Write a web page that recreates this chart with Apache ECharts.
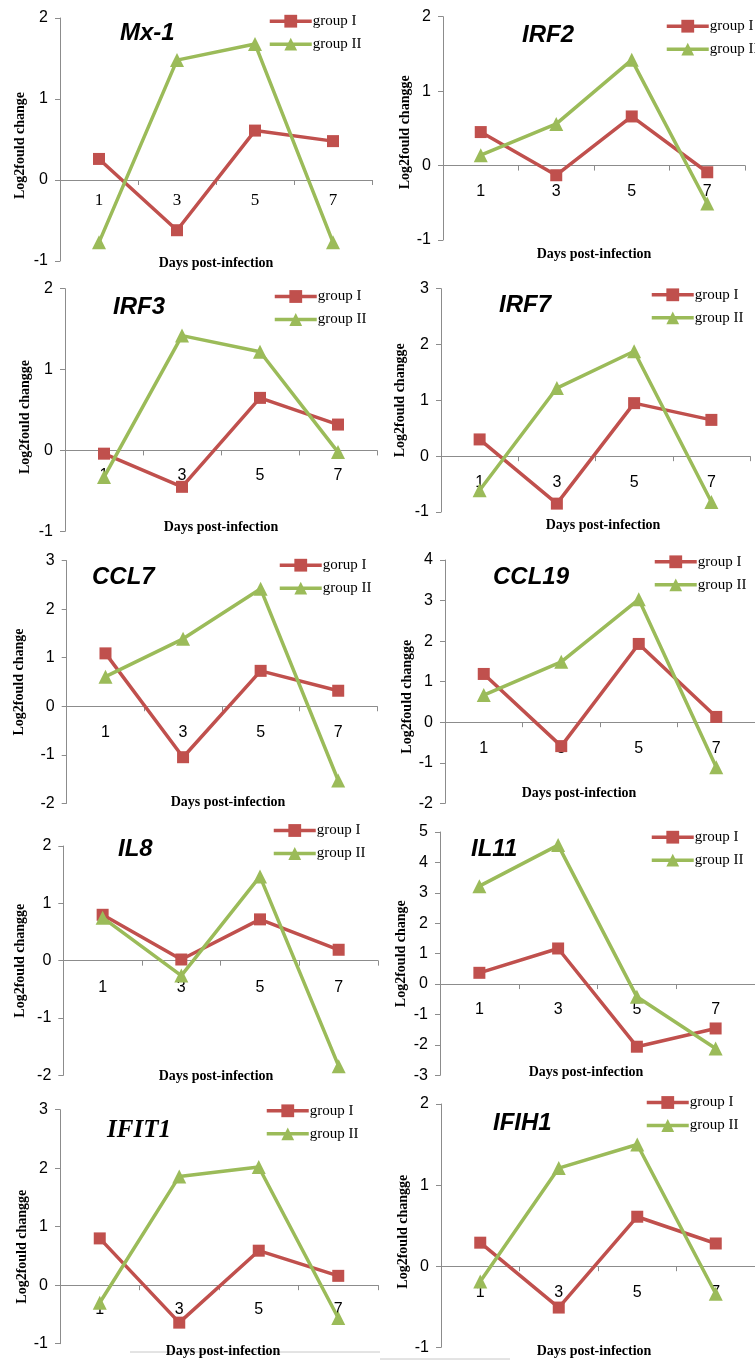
<!DOCTYPE html>
<html>
<head>
<meta charset="utf-8">
<script src="https://cdn.jsdelivr.net/npm/echarts@6/dist/echarts.min.js"></script>
<style>
html,body{margin:0;padding:0;background:#fff;}
#c{width:755px;height:1361px;}
</style>
</head>
<body>
<div id="c"></div>
<script>
// ---- data ----
const days = ['1', '3', '5', '7'];
const genes = ['Mx-1', 'IRF2', 'IRF3', 'IRF7', 'CCL7', 'CCL19', 'IL8', 'IL11', 'IFIT1', 'IFIH1'];
const groupINames = ['group I', 'group I', 'group I', 'group I', 'gorup I', 'group I', 'group I', 'group I', 'group I', 'group I'];
const groupIIName = 'group II';

const mx1_g1   = [0.26, -0.62, 0.61, 0.48];
const mx1_g2   = [-0.77, 1.48, 1.68, -0.77];
const irf2_g1  = [0.45, -0.13, 0.66, -0.09];
const irf2_g2  = [0.14, 0.56, 1.42, -0.51];
const irf3_g1  = [-0.04, -0.45, 0.65, 0.32];
const irf3_g2  = [-0.33, 1.42, 1.22, -0.02];
const irf7_g1  = [0.30, -0.85, 0.95, 0.65];
const irf7_g2  = [-0.61, 1.22, 1.88, -0.82];
const ccl7_g1  = [1.09, -1.05, 0.73, 0.32];
const ccl7_g2  = [0.61, 1.39, 2.42, -1.53];
const ccl19_g1 = [1.19, -0.59, 1.93, 0.13];
const ccl19_g2 = [0.67, 1.49, 3.03, -1.11];
const il8_g1   = [0.80, 0.02, 0.72, 0.19];
const il8_g2   = [0.75, -0.26, 1.47, -1.84];
const il11_g1  = [0.37, 1.17, -2.06, -1.46];
const il11_g2  = [3.22, 4.57, -0.42, -2.12];
const ifit1_g1 = [0.80, -0.64, 0.59, 0.16];
const ifit1_g2 = [-0.30, 1.86, 2.02, -0.56];
const ifih1_g1 = [0.29, -0.51, 0.61, 0.28];
const ifih1_g2 = [-0.19, 1.21, 1.50, -0.34];

const yMins = [-1, -1, -1, -1, -2, -2, -2, -3, -1, -1];
const yMaxs = [2, 2, 2, 3, 3, 4, 2, 5, 3, 2];
const yTitles = ['Log2fould change', 'Log2fould changge', 'Log2fould changge', 'Log2fould changge', 'Log2fould change',
                 'Log2fould changge', 'Log2fould changge', 'Log2fould change', 'Log2fould changge', 'Log2fould changge'];
const xTitle = 'Days post-infection';

const g1Data = [mx1_g1, irf2_g1, irf3_g1, irf7_g1, ccl7_g1, ccl19_g1, il8_g1, il11_g1, ifit1_g1, ifih1_g1];
const g2Data = [mx1_g2, irf2_g2, irf3_g2, irf7_g2, ccl7_g2, ccl19_g2, il8_g2, il11_g2, ifit1_g2, ifih1_g2];

// ---- layout (positions only) ----
const layout = [
  {l: 60,  r: 372, t: 18,   b: 261,   tx: 120, ty: 33,   lx: 268, ly: 21.7, xt: [216, 263],  yg: 33, yo: 6, lm: 12, catSerif: true},
  {l: 443, r: 745, t: 16.7, b: 240,   tx: 522, ty: 35,   lx: 665, ly: 26.7, xt: [594, 254],  yg: 31, yo: 4, lm: 18},
  {l: 65,  r: 377, t: 288.7,b: 531.3, tx: 113, ty: 307,  lx: 273, ly: 297,  xt: [221, 527],  yg: 33, yo: 7, lm: 17},
  {l: 441, r: 750, t: 288.7,b: 512,   tx: 499, ty: 305,  lx: 650, ly: 295.3,xt: [603, 525],  yg: 34, yo: 0, lm: 18},
  {l: 66.7,r: 377, t: 560.7,b: 803.3, tx: 92,  ty: 577,  lx: 278, ly: 565.7,xt: [228, 802],  yg: 40, yo: 0, lm: 18},
  {l: 445, r: 755, t: 560,  b: 803.3, tx: 493, ty: 577,  lx: 653, ly: 562.3,xt: [579, 793],  yg: 30, yo: 15, lm: 18},
  {l: 63.3,r: 378, t: 846,  b: 1075.3,tx: 118, ty: 849,  lx: 272, ly: 831,  xt: [216, 1076], yg: 36, yo: 0, lm: 19},
  {l: 440, r: 756, t: 832,  b: 1075.3,tx: 471, ty: 849,  lx: 650, ly: 837.7,xt: [586, 1072], yg: 32, yo: 0, lm: 18},
  {l: 60,  r: 378, t: 1109.7,b: 1343.7,tx: 107,ty: 1131, lx: 265, ly: 1111.3,xt: [223, 1351],yg: 28, yo: 20, lm: 16, titleSerif: true},
  {l: 441, r: 755, t: 1104, b: 1347.3,tx: 493, ty: 1123, lx: 645, ly: 1103, xt: [594, 1351], yg: 24, yo: 6, lm: 18}
];

const RED = '#C0504D', GREEN = '#9BBB59', AXIS = '#8c8c8c';
const grids = [], xAxes = [], yAxes = [], series = [], legends = [], graphics = [];

layout.forEach((p, i) => {
  const h = p.b - p.t;
  // place the category axis on the value-axis zero line
  const zeroShift = (0 - yMins[i]) / (yMaxs[i] - yMins[i]) * h;
  grids.push({left: p.l, top: p.t, width: p.r - p.l, height: h, containLabel: false});
  xAxes.push({
    type: 'category', gridIndex: i, data: days, boundaryGap: true, position: 'bottom', offset: -zeroShift,
    axisLine: {onZero: false, lineStyle: {color: AXIS, width: 1}},
    axisTick: {show: true, length: 5, lineStyle: {color: AXIS}},
    axisLabel: {margin: p.lm, color: '#000', fontSize: p.catSerif ? 17 : 16,
                fontFamily: p.catSerif ? 'Liberation Serif' : 'Liberation Sans'},
    splitLine: {show: false}, z: 1
  });
  yAxes.push({
    type: 'value', gridIndex: i, min: yMins[i], max: yMaxs[i], interval: 1,
    axisLine: {show: true, lineStyle: {color: AXIS, width: 1}},
    axisTick: {show: true, length: 5, lineStyle: {color: AXIS}},
    axisLabel: {margin: 12, color: '#000', fontSize: 16, fontFamily: 'Liberation Sans'},
    splitLine: {show: false},
    name: yTitles[i], nameLocation: 'middle', nameRotate: 90, nameGap: p.yg,
    nameTextStyle: {fontFamily: 'Liberation Serif', fontWeight: 'bold', fontSize: 14, color: '#000',
                    padding: [0, 2 * p.yo, 0, 0]}
  });
  series.push({
    type: 'line', name: groupINames[i], xAxisIndex: i, yAxisIndex: i, data: g1Data[i],
    symbol: 'rect', symbolSize: 12, color: RED,
    lineStyle: {width: 3.5, color: RED}, itemStyle: {color: RED}, z: 3, animation: false
  });
  series.push({
    type: 'line', name: groupIIName, xAxisIndex: i, yAxisIndex: i, data: g2Data[i],
    symbol: 'triangle', symbolSize: 14, color: GREEN,
    lineStyle: {width: 3.5, color: GREEN}, itemStyle: {color: GREEN}, z: 4, animation: false
  });
  legends.push({
    data: [groupINames[i], groupIIName], orient: 'vertical', left: p.lx, top: p.ly - 8,
    itemWidth: 42, itemHeight: 16, itemGap: 8, padding: 0, selectedMode: false,
    lineStyle: {width: 3.5},
    textStyle: {fontFamily: 'Liberation Serif', fontSize: 15, color: '#000', padding: [0, 0, 0, -4]}
  });
  graphics.push({
    type: 'text', x: p.tx, y: p.ty, silent: true,
    style: {text: genes[i], fill: '#000', textVerticalAlign: 'middle', textAlign: 'left',
            font: p.titleSerif ? 'italic bold 25px "Liberation Serif"' : 'italic bold 24px "Liberation Sans"'}
  });
  graphics.push({
    type: 'text', x: p.xt[0], y: p.xt[1], silent: true,
    style: {text: xTitle, fill: '#000', textVerticalAlign: 'middle', textAlign: 'center',
            font: 'bold 14px "Liberation Serif"'}
  });
});

// thin frame remnants along the bottom edge of the figure
graphics.push({type: 'line', silent: true, z: -1, shape: {x1: 130, y1: 1352, x2: 380, y2: 1352},
               style: {stroke: '#c8c8c8', lineWidth: 1}});
graphics.push({type: 'line', silent: true, z: -1, shape: {x1: 380, y1: 1359, x2: 510, y2: 1359},
               style: {stroke: '#c8c8c8', lineWidth: 1}});

const chart = echarts.init(document.getElementById('c'), null, {renderer: 'canvas'});
chart.setOption({
  animation: false,
  backgroundColor: '#fff',
  grid: grids, xAxis: xAxes, yAxis: yAxes, series: series, legend: legends,
  graphic: graphics
});
</script>
</body>
</html>
